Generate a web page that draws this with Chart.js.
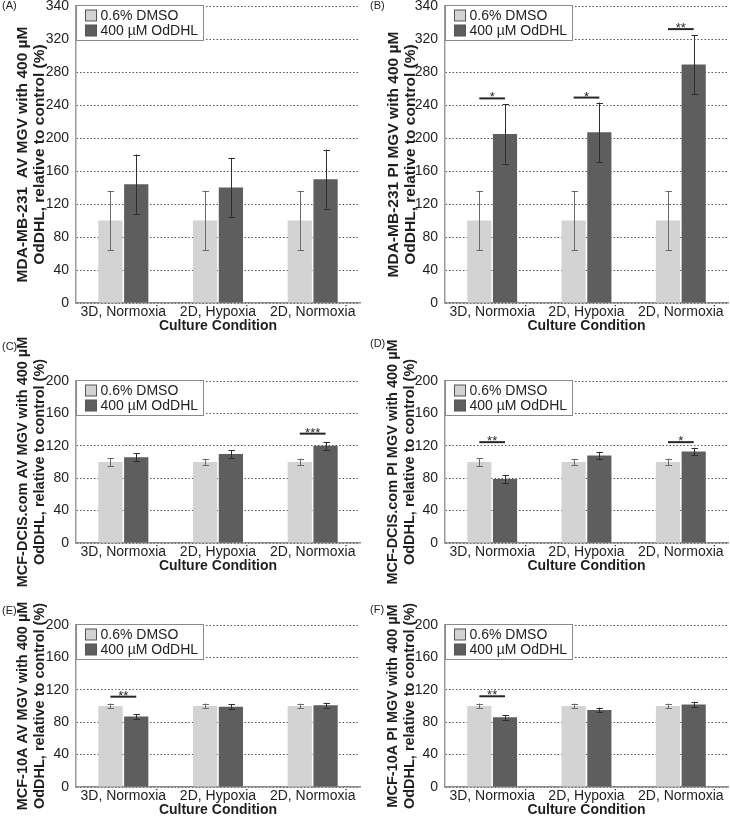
<!DOCTYPE html>
<html><head><meta charset="utf-8">
<script src="https://cdn.jsdelivr.net/npm/chart.js@4/dist/chart.umd.min.js"></script>
<style>
body{margin:0;background:#fff;}
#wrap{position:relative;width:730px;height:817px;overflow:hidden;background:#fff;font-family:'Liberation Sans',Arial,sans-serif;}
canvas{position:absolute;}
.pl{position:absolute;font-size:11px;color:#222;font-family:'Liberation Sans',Arial,sans-serif;line-height:11px;}
</style></head><body>
<div id="wrap">
<canvas id="cA"></canvas><canvas id="cB"></canvas>
<canvas id="cC"></canvas><canvas id="cD"></canvas>
<canvas id="cE"></canvas><canvas id="cF"></canvas>
<div class="pl" style="left:2px;top:0px">(A)</div>
<div class="pl" style="left:370px;top:0px">(B)</div>
<div class="pl" style="left:2px;top:341px">(C)</div>
<div class="pl" style="left:370px;top:338px">(D)</div>
<div class="pl" style="left:2px;top:605px">(E)</div>
<div class="pl" style="left:370px;top:604px">(F)</div>
</div>
<script>
// ---------- data ----------
const categories = ['3D, Normoxia', '2D, Hypoxia', '2D, Normoxia'];
const seriesNames = ['0.6% DMSO', '400 \u00b5M OdDHL'];
const xTitle = 'Culture Condition';
const yTitle2 = 'OdDHL, relative to control (%)';

const ticksTop = ['0','40','80','120','160','200','240','280','320','340'];
const ticksLow = ['0','40','80','120','160','200'];

const dmsoA = [100, 100, 100];  const dmsoErrA = [36, 36, 36];
const odA   = [144, 140, 150];  const odErrA   = [36, 36, 36];
const sigA  = ['', '', ''];     const sigYA    = [null, null, null];

const dmsoB = [100, 100, 100];  const dmsoErrB = [36, 36, 36];
const odB   = [205, 207, 289];  const odErrB   = [36, 36, 36];
const sigB  = ['*', '*', '**']; const sigYB    = [248, 249, 332];

const dmsoC = [100, 100, 100];  const dmsoErrC = [5, 4, 4];
const odC   = [106, 110, 120];  const odErrC   = [5, 4.5, 5];
const sigC  = ['', '', '***'];  const sigYC    = [null, null, 135];

const dmsoD = [100, 100, 100];  const dmsoErrD = [5, 4, 4];
const odD   = [79, 108, 113];   const odErrD   = [5, 4.5, 4.5];
const sigD  = ['**', '', '*'];  const sigYD    = [124.5, null, 124.5];

const dmsoE = [100, 100, 100];  const dmsoErrE = [3, 3, 3];
const odE   = [87, 99, 101];    const odErrE   = [3, 3.3, 3];
const sigE  = ['**', '', ''];   const sigYE    = [111.5, null, null];

const dmsoF = [100, 100, 100];  const dmsoErrF = [3, 3, 3];
const odF   = [86, 95, 102];    const odErrF   = [3, 3, 3.3];
const sigF  = ['**', '', ''];   const sigYF    = [112, null, null];

// ---------- style / layout ----------
const FONT = "'Liberation Sans', Arial, sans-serif";
const C_LIGHT = '#d3d3d3', C_DARK = '#5e5e5e';
const ERR_COL = ['#6a6a6a', '#2e2e2e'];

const panels = [
  {id:'cA', cx:0,   cy:-20, cw:365, ch:360, L:76,  R:360, T:6,   B:303, max:360, ticks:ticksTop, title:['MDA-MB-231  AV MGV with 400 \u00b5M', yTitle2], d:[dmsoA,odA], e:[dmsoErrA,odErrA], s:sigA, sy:sigYA, tx:23, tf:15.5},
  {id:'cB', cx:365, cy:-20, cw:365, ch:360, L:445, R:728, T:6,   B:303, max:360, ticks:ticksTop, title:['MDA-MB-231 PI MGV with 400 \u00b5M', yTitle2], d:[dmsoB,odB], e:[dmsoErrB,odErrB], s:sigB, sy:sigYB, tx:29, tf:15.5},
  {id:'cC', cx:0,   cy:325, cw:365, ch:280, L:76,  R:360, T:381, B:543, max:200, ticks:ticksLow, title:['MCF-DCIS.com AV MGV with 400 \u00b5M', yTitle2], d:[dmsoC,odC], e:[dmsoErrC,odErrC], s:sigC, sy:sigYC, tx:23, tf:14.5},
  {id:'cD', cx:365, cy:325, cw:365, ch:280, L:445, R:728, T:381, B:543, max:200, ticks:ticksLow, title:['MCF-DCIS.com PI MGV with 400 \u00b5M', yTitle2], d:[dmsoD,odD], e:[dmsoErrD,odErrD], s:sigD, sy:sigYD, tx:28, tf:14.5},
  {id:'cE', cx:0,   cy:570, cw:365, ch:255, L:76,  R:360, T:625, B:787, max:200, ticks:ticksLow, title:['MCF-10A AV MGV with 400 \u00b5M', yTitle2], d:[dmsoE,odE], e:[dmsoErrE,odErrE], s:sigE, sy:sigYE, tx:23, tf:14.5},
  {id:'cF', cx:365, cy:570, cw:365, ch:255, L:445, R:728, T:625, B:787, max:200, ticks:ticksLow, title:['MCF-10A PI MGV with 400 \u00b5M', yTitle2], d:[dmsoF,odF], e:[dmsoErrF,odErrF], s:sigF, sy:sigYF, tx:28, tf:14.5}
];

const XAXIS_H = 32;
const TITLE_LH = 16.7;

const overlayPlugin = {
  id: 'overlay',
  afterDatasetsDraw(chart) {
    const p = chart.options.plugins.overlay;
    const ctx = chart.ctx;
    const y = chart.scales.y;
    // error bars
    chart.data.datasets.forEach((ds, di) => {
      const meta = chart.getDatasetMeta(di);
      meta.data.forEach((bar, i) => {
        const v = ds.data[i], e = p.errors[di][i];
        const yt = y.getPixelForValue(v + e), yb = y.getPixelForValue(v - e);
        const x = Math.round(bar.x) + 0.5;
        ctx.save();
        ctx.strokeStyle = ERR_COL[di];
        ctx.lineWidth = 1;
        ctx.beginPath();
        ctx.moveTo(x, yt); ctx.lineTo(x, yb);
        ctx.moveTo(x - 3, Math.round(yt) + 0.5); ctx.lineTo(x + 3.5, Math.round(yt) + 0.5);
        ctx.moveTo(x - 3, Math.round(yb) + 0.5); ctx.lineTo(x + 3.5, Math.round(yb) + 0.5);
        ctx.stroke();
        ctx.restore();
      });
    });
    // significance markers
    const m0 = chart.getDatasetMeta(0), m1 = chart.getDatasetMeta(1);
    p.sig.forEach((s, i) => {
      if (!s) return;
      const yy = y.getPixelForValue(p.sigY[i]);
      const x0 = m0.data[i].x, x1 = m1.data[i].x;
      ctx.save();
      ctx.strokeStyle = '#262626';
      ctx.lineWidth = 2;
      ctx.beginPath(); ctx.moveTo(x0, yy); ctx.lineTo(x1, yy); ctx.stroke();
      ctx.fillStyle = '#262626';
      ctx.font = '13px ' + FONT;
      ctx.textAlign = 'center';
      ctx.textBaseline = 'alphabetic';
      ctx.fillText(s, (x0 + x1) / 2, yy + 3);
      ctx.restore();
    });
    // legend box
    const ca = chart.chartArea;
    const bx = Math.round(ca.left) + 0.5, by = Math.round(ca.top) - 0.5;
    ctx.save();
    ctx.fillStyle = '#ffffff';
    ctx.fillRect(bx, by, 127, 35);
    ctx.strokeStyle = '#8a8a8a';
    ctx.lineWidth = 1;
    ctx.strokeRect(bx, by, 127, 35);
    chart.data.datasets.forEach((ds, di) => {
      const sy = by + 4.5 + di * 15;
      ctx.fillStyle = ds.backgroundColor;
      ctx.fillRect(bx + 9, sy, 11, 11);
      ctx.strokeStyle = '#555';
      ctx.strokeRect(bx + 9, sy, 11, 11);
      ctx.fillStyle = '#1e1e1e';
      ctx.font = '14px ' + FONT;
      ctx.textAlign = 'left';
      ctx.textBaseline = 'middle';
      ctx.fillText(ds.label, bx + 24, sy + 6);
    });
    ctx.restore();
  }
};

panels.forEach(pn => {
  const cv = document.getElementById(pn.id);
  cv.width = pn.cw; cv.height = pn.ch;
  cv.style.left = pn.cx + 'px'; cv.style.top = pn.cy + 'px';
  cv.style.width = pn.cw + 'px'; cv.style.height = pn.ch + 'px';
  const yW = pn.L - pn.cx;
  const padTop = pn.T - pn.cy;
  const padRight = pn.cx + pn.cw - pn.R;
  const padBottom = pn.cy + pn.ch - pn.B - XAXIS_H;
  new Chart(cv, {
    type: 'bar',
    data: {
      labels: categories,
      datasets: [
        {label: seriesNames[0], data: pn.d[0], backgroundColor: C_LIGHT, borderWidth: 0, barPercentage: 0.94, categoryPercentage: 0.545},
        {label: seriesNames[1], data: pn.d[1], backgroundColor: C_DARK, borderWidth: 0, barPercentage: 0.94, categoryPercentage: 0.545}
      ]
    },
    options: {
      responsive: false,
      animation: false,
      devicePixelRatio: 1,
      layout: {padding: {left: 0, top: padTop, right: padRight, bottom: padBottom}},
      plugins: {
        legend: {display: false},
        tooltip: {enabled: false},
        overlay: {errors: pn.e, sig: pn.s, sigY: pn.sy}
      },
      scales: {
        x: {
          grid: {display: false, drawTicks: false},
          border: {display: true, color: '#8c8c8c', width: 1.5},
          ticks: {color: '#1e1e1e', font: {family: FONT, size: 14}, padding: 1, maxRotation: 0, autoSkip: false},
          title: {display: true, text: xTitle, color: '#1e1e1e', font: {family: FONT, size: 14, weight: 'bold', lineHeight: 1.2}, padding: {top: 0, bottom: 0}},
          afterFit: s => { s.height = XAXIS_H; }
        },
        y: {
          min: 0, max: pn.max,
          grid: {display: true, drawTicks: false, color: '#555555', lineWidth: 1},
          border: {display: true, color: '#9a9a9a', width: 1.5, dash: [1.5, 2]},
          ticks: {
            stepSize: 40,
            color: '#1e1e1e',
            font: {family: FONT, size: 14},
            padding: 7,
            callback: (v, i) => pn.ticks[i]
          },
          title: {
            display: true, text: pn.title, color: '#1e1e1e',
            font: {family: FONT, size: pn.tf, weight: 'bold', lineHeight: TITLE_LH + 'px'},
            padding: {top: pn.tx - TITLE_LH / 2, bottom: 0}
          },
          afterFit: s => { s.width = yW; }
        }
      }
    },
    plugins: [overlayPlugin]
  });
});
</script>
</body></html>
